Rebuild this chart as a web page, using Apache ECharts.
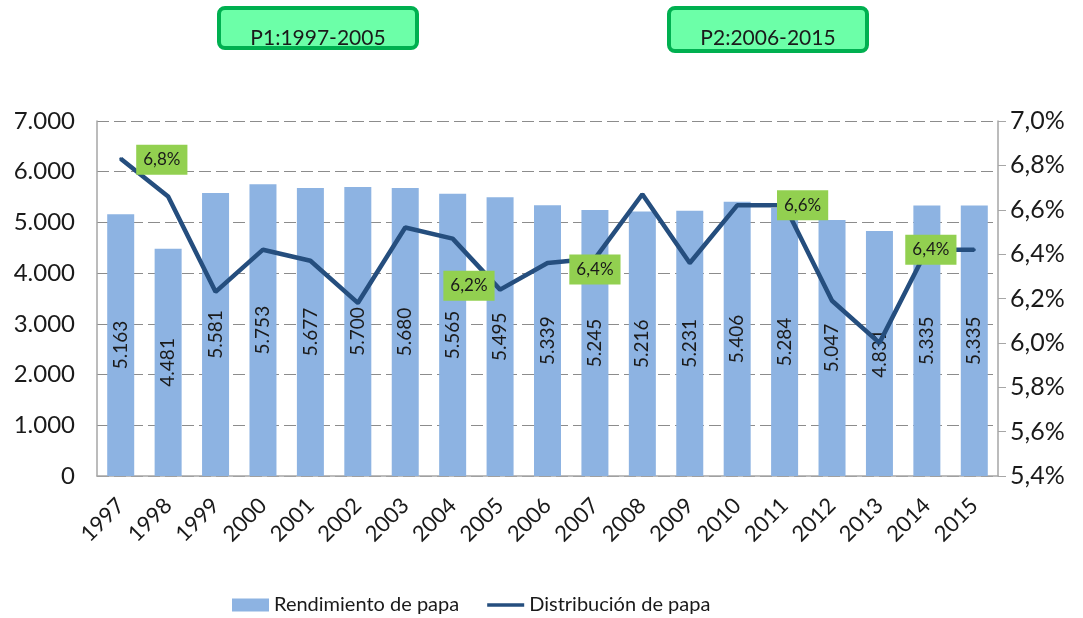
<!DOCTYPE html>
<html>
<head>
<meta charset="utf-8">
<script src="https://cdn.jsdelivr.net/npm/echarts@6/dist/echarts.min.js"></script>
<style>
  html, body { margin: 0; padding: 0; background: #fff; }
  #chart { width: 1083px; height: 618px; }
</style>
</head>
<body>
<div id="chart"></div>
<script>
  // datos
  const years = ['1997','1998','1999','2000','2001','2002','2003','2004','2005','2006',
                 '2007','2008','2009','2010','2011','2012','2013','2014','2015']
  const rendimiento = [5163, 4481, 5581, 5753, 5677, 5700, 5680, 5565, 5495, 5339,
                       5245, 5216, 5231, 5406, 5284, 5047, 4831, 5335, 5335]
  const distribucion = [6.83, 6.66, 6.23, 6.42, 6.37, 6.18, 6.52, 6.47, 6.24, 6.36,
                        6.38, 6.67, 6.36, 6.62, 6.62, 6.19, 6.00, 6.42, 6.42]
  // puntos con etiqueta verde
  const etiquetas = {
    0:  { position: 'right', distance: 14, offset: [0, 1] },
    8:  { position: 'left', distance: 4, offset: [0, -4] },
    10: { position: 'inside', offset: [0, 11] },
    14: { position: 'inside', offset: [18, 0] },
    17: { position: 'inside', offset: [4, 0] }
  }
  const periodos = ['P1:1997-2005', 'P2:2006-2015']

  const FONT = 'Lato, "Open Sans", sans-serif'
  const fmtMiles = v => String(v).replace(/\B(?=(\d{3})+(?!\d))/g, '.')
  const fmtPct = v => v.toFixed(1).replace('.', ',') + '%'

  const lineData = distribucion.map((v, i) => {
    const e = etiquetas[i]
    if (!e) return v
    return {
      value: v,
      label: Object.assign({
        show: true,
        formatter: p => fmtPct(p.value),
        backgroundColor: '#92D050',
        padding: [7, 7, 6, 7],
        fontSize: 17,
        fontFamily: FONT,
        color: '#1a1a1a'
      }, e)
    }
  })

  const myChart = echarts.init(document.getElementById('chart'))
  const option = {
    animation: false,
    textStyle: { fontFamily: FONT },
    grid: { left: 97, right: 85, top: 121, bottom: 142 },
    legend: {
      left: 227,
      top: 590,
      itemWidth: 37,
      itemHeight: 13,
      itemGap: 28,
      textStyle: { fontSize: 20, color: '#1a1a1a', fontFamily: FONT },
      data: [
        { name: 'Rendimiento de papa', icon: 'rect' },
        { name: 'Distribución de papa', icon: 'path://M0,0 L40,0 L40,4 L0,4 Z' }
      ]
    },
    graphic: periodos.map((t, i) => ({
      type: 'group',
      left: i === 0 ? 217 : 667,
      top: 6,
      children: [
        {
          type: 'rect',
          shape: { x: 0, y: 0, width: 198, height: i === 0 ? 40 : 43, r: 6 },
          style: { fill: '#6CFFA8', stroke: '#00B050', lineWidth: 4 }
        },
        {
          type: 'text',
          x: 99, y: 30,
          style: { text: t, fill: '#1a1a1a', font: '21px ' + FONT, textAlign: 'center', textVerticalAlign: 'middle' }
        }
      ]
    })),
    xAxis: {
      type: 'category',
      data: years,
      axisLine: { lineStyle: { color: '#a6a6a6', width: 1.5 } },
      axisTick: { show: false },
      axisLabel: { rotate: 45, fontSize: 22, color: '#1a1a1a', margin: 26, fontFamily: FONT }
    },
    yAxis: [
      {
        type: 'value',
        min: 0, max: 7000, interval: 1000,
        axisLine: { show: true, lineStyle: { color: '#a6a6a6', width: 1.5 } },
        axisTick: { show: false },
        axisLabel: { fontSize: 24, color: '#1a1a1a', margin: 22, formatter: fmtMiles, fontFamily: FONT },
        splitLine: { lineStyle: { color: '#8c8c8c', type: [12, 5], width: 1.2 } }
      },
      {
        type: 'value',
        min: 5.4, max: 7.0, interval: 0.2,
        axisLine: { show: true, lineStyle: { color: '#a6a6a6', width: 1.5 } },
        axisTick: { show: true, length: 8, lineStyle: { color: '#a6a6a6' } },
        axisLabel: { fontSize: 25, color: '#1a1a1a', margin: 12, formatter: fmtPct, fontFamily: FONT },
        splitLine: { show: false }
      }
    ],
    series: [
      {
        name: 'Rendimiento de papa',
        type: 'bar',
        data: rendimiento,
        barWidth: 27,
        itemStyle: { color: '#8DB3E2' },
        label: {
          show: true,
          position: 'inside',
          rotate: 90,
          fontSize: 19,
          color: '#1a1a1a',
          fontFamily: FONT,
          formatter: p => fmtMiles(p.value)
        },
        emphasis: { disabled: true }
      },
      {
        name: 'Distribución de papa',
        type: 'line',
        yAxisIndex: 1,
        data: lineData,
        symbol: 'circle',
        symbolSize: 3,
        showSymbol: true,
        itemStyle: { color: '#254E7E' },
        lineStyle: { color: '#254E7E', width: 4.5 },
        emphasis: { disabled: true },
        z: 5
      }
    ]
  }
  myChart.setOption(option)
</script>
</body>
</html>
